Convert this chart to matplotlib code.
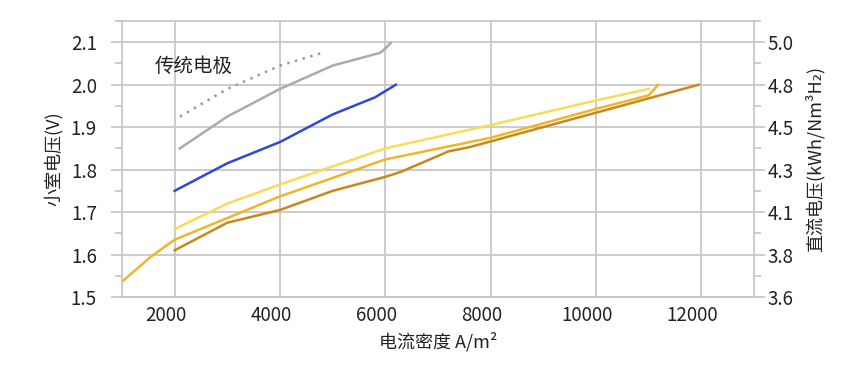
import matplotlib
matplotlib.use('Agg')
import matplotlib.pyplot as plt
import matplotlib.transforms as mtransforms
from matplotlib.ticker import MultipleLocator

plt.rcParams['font.family'] = ['Noto Sans CJK SC', 'DejaVu Sans']

# 传统电极 (dotted) and measured curves, x = current density A/m2, y = cell voltage V
trad_x = [2100, 3000, 4000, 4800]
trad_y = [1.925, 1.99, 2.045, 2.075]

gray_x = [2100, 3000, 4000, 5000, 5900, 6000, 6100]
gray_y = [1.85, 1.925, 1.99, 2.045, 2.075, 2.085, 2.098]

blue_x = [2000, 3000, 4000, 5000, 5800, 6200]
blue_y = [1.75, 1.815, 1.865, 1.93, 1.97, 2.0]

light_x = [2000, 3000, 4000, 6000, 8000, 10000, 11000]
light_y = [1.66, 1.72, 1.765, 1.85, 1.905, 1.963, 1.99]

orange_x = [1000, 1550, 2000, 3000, 4000, 6000, 8000, 10000, 11000, 11180]
orange_y = [1.536, 1.595, 1.635, 1.686, 1.737, 1.824, 1.875, 1.943, 1.975, 2.0]

brown_x = [2000, 3000, 4000, 5000, 6000, 6300, 7200, 7600, 11950]
brown_y = [1.61, 1.675, 1.705, 1.75, 1.783, 1.795, 1.843, 1.853, 2.0]

left_ticks = [1.5, 1.6, 1.7, 1.8, 1.9, 2.0, 2.1]
right_labels = ['3.6', '3.8', '4.1', '4.3', '4.5', '4.8', '5.0']
x_ticks = [2000, 4000, 6000, 8000, 10000, 12000]

grid_c = '#c4c4c4'

fig = plt.figure(figsize=(8.65, 3.72), dpi=100)
ax = fig.add_axes([0.141, 0.2016, 0.7307, 0.7419])

ax.plot(trad_x, trad_y, color='#9a9a9a', lw=1.8, linestyle=(0, (1, 2.2)))
ax.plot(gray_x, gray_y, color='#ababab', lw=1.8)
ax.plot(blue_x, blue_y, color='#3048d8', lw=1.8)
ax.plot(light_x, light_y, color='#f8dc55', lw=1.8)
ax.plot(orange_x, orange_y, color='#f2b52a', lw=1.8)
ax.plot(brown_x, brown_y, color='#c8881c', lw=1.8)

ax.text(2360, 2.042, '传统电极', fontsize=14, ha='center', va='center', color='#222222')

ax.set_xlim(1000, 13000)
ax.set_ylim(1.5, 2.15)
ax.set_xticks(x_ticks)
ax.set_yticks(left_ticks)
ax.yaxis.set_minor_locator(MultipleLocator(0.05))
ax.set_yticklabels([f'{v:.1f}' for v in left_ticks])
ax.grid(True, color=grid_c, lw=1.2)
ax.set_axisbelow(True)

for s in ax.spines.values():
    s.set_color(grid_c)
    s.set_linewidth(1.2)

ax.tick_params(axis='x', length=0, labelsize=13.5, pad=6, colors='#222222')
ax.tick_params(axis='y', which='major', length=8, width=1.2, color=grid_c,
               labelsize=13.5, pad=10, labelcolor='#222222')
ax.tick_params(axis='y', which='minor', length=5, width=1.2, color=grid_c)

# shift x labels slightly left like the original
offset = mtransforms.ScaledTranslation(-0.09, 0, fig.dpi_scale_trans)
for lab in ax.get_xticklabels():
    lab.set_transform(lab.get_transform() + offset)

ax.set_ylabel('小室电压(V)', fontsize=13, color='#222222', labelpad=6)
ax.set_xlabel('电流密度 A/m²', fontsize=13, color='#222222', labelpad=4)

ax2 = ax.twinx()
ax2.set_ylim(1.5, 2.15)
ax2.set_yticks(left_ticks)
ax2.set_yticklabels(right_labels)
ax2.yaxis.set_minor_locator(MultipleLocator(0.05))
for s in ax2.spines.values():
    s.set_visible(False)
ax2.tick_params(axis='y', which='major', length=8, width=1.2, color=grid_c,
                labelsize=13.5, pad=2, labelcolor='#222222')
ax2.tick_params(axis='y', which='minor', length=5, width=1.2, color=grid_c)
ax2.set_ylabel('直流电压(kWh/Nm³H₂)', fontsize=13, color='#222222', labelpad=8)

fig.savefig('out.png', dpi=100)
